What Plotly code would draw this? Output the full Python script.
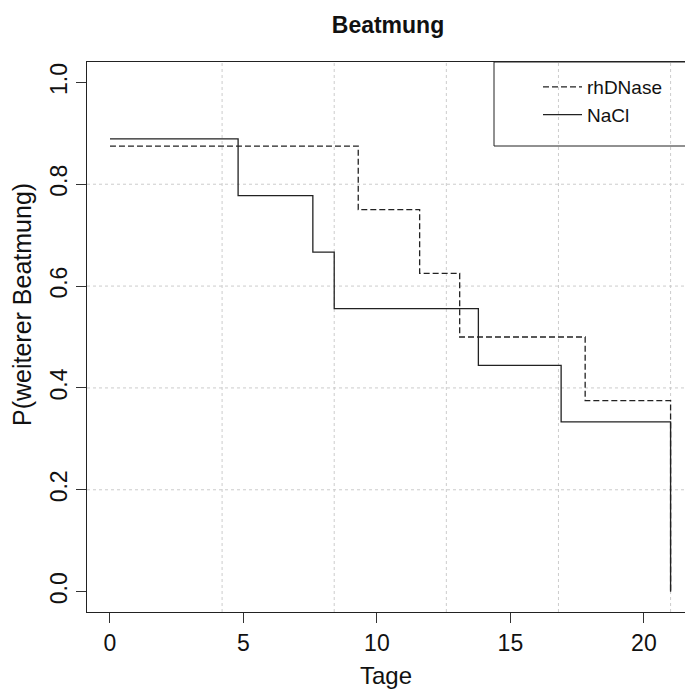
import plotly.graph_objects as go

# Data (Kaplan-Meier step curves)
nacl_days = [0, 4.8, 7.6, 8.4, 13.8, 16.9, 21.0]
nacl_surv = [8/9, 7/9, 6/9, 5/9, 4/9, 3/9, 0.0]
rh_days = [0, 9.3, 11.6, 13.1, 17.8, 21.0]
rh_surv = [7/8, 6/8, 5/8, 4/8, 3/8, 0.0]

x_ticks = [0, 5, 10, 15, 20]
y_ticks = [0.0, 0.2, 0.4, 0.6, 0.8, 1.0]
y_tick_text = ["0.0", "0.2", "0.4", "0.6", "0.8", "1.0"]
x_grid = [4.2, 8.4, 12.6, 16.8, 21.0]
y_grid = [0.2, 0.4, 0.6, 0.8]

FONT = "Liberation Sans, Arial, sans-serif"

fig = go.Figure()
fig.add_trace(go.Scatter(x=rh_days, y=rh_surv, mode="lines", line_shape="hv",
                         name="rhDNase",
                         line=dict(color="#222222", width=1.3, dash="6px,3px")))
fig.add_trace(go.Scatter(x=nacl_days, y=nacl_surv, mode="lines", line_shape="hv",
                         name="NaCl",
                         line=dict(color="#222222", width=1.3)))

shapes = []
for gx in x_grid:
    shapes.append(dict(type="line", xref="x", yref="paper", x0=gx, x1=gx, y0=0, y1=1,
                       line=dict(color="#cccccc", width=1, dash="dot"), layer="below"))
for gy in y_grid:
    shapes.append(dict(type="line", xref="paper", yref="y", x0=0, x1=1, y0=gy, y1=gy,
                       line=dict(color="#cccccc", width=1, dash="dot"), layer="below"))
# legend box (R-style, extends past the right edge)
W, H = 685, 689
L, R, T, B = 87, 0, 62, 77
pw, ph = W - L - R, H - T - B
shapes.append(dict(type="rect", xref="paper", yref="paper",
                   x0=(494 - L) / pw, x1=1.05, y0=(H - B - 146) / ph, y1=1.0,
                   line=dict(color="#222222", width=1), fillcolor="rgba(0,0,0,0)",
                   layer="above"))

fig.update_layout(
    width=W, height=H,
    margin=dict(l=L, r=R, t=T, b=B),
    paper_bgcolor="white", plot_bgcolor="white",
    font=dict(family=FONT, color="#111111"),
    title=dict(text="<b>Beatmung</b>", font=dict(size=23, family=FONT, color="#111111"),
               xref="container", yref="container", x=388 / W, y=1 - 25 / H,
               xanchor="center", yanchor="middle"),
    showlegend=True,
    legend=dict(x=(538 - L) / pw, y=1 - 6 / ph, xanchor="left", yanchor="top",
                bgcolor="rgba(0,0,0,0)", borderwidth=0,
                font=dict(size=19, family=FONT, color="#111111"),
                itemwidth=39, tracegroupgap=0),
    shapes=shapes,
    xaxis=dict(range=[-0.86, 21.54], tickvals=x_ticks, ticks="outside", ticklen=10,
               tickcolor="#333333", showgrid=False, zeroline=False,
               showline=True, linecolor="#222222", linewidth=1, mirror=True,
               tickfont=dict(size=23, family=FONT, color="#111111"),
               title=dict(text="Tage", font=dict(size=24, family=FONT, color="#111111"),
                          standoff=14)),
    yaxis=dict(range=[-0.04, 1.04], tickvals=y_ticks, ticktext=y_tick_text,
               ticks="outside", ticklen=10, tickangle=-90,
               tickcolor="#333333", showgrid=False, zeroline=False,
               showline=True, linecolor="#222222", linewidth=1, mirror=False,
               tickfont=dict(size=23, family=FONT, color="#111111")),
    annotations=[dict(text="P(weiterer Beatmung)", xref="paper", yref="paper",
                      x=-(L - 22) / pw, y=(H - B - 305) / ph, showarrow=False,
                      textangle=-90, xanchor="center", yanchor="middle",
                      font=dict(size=25, family=FONT, color="#111111"))],
)

fig.write_html("out.html")
